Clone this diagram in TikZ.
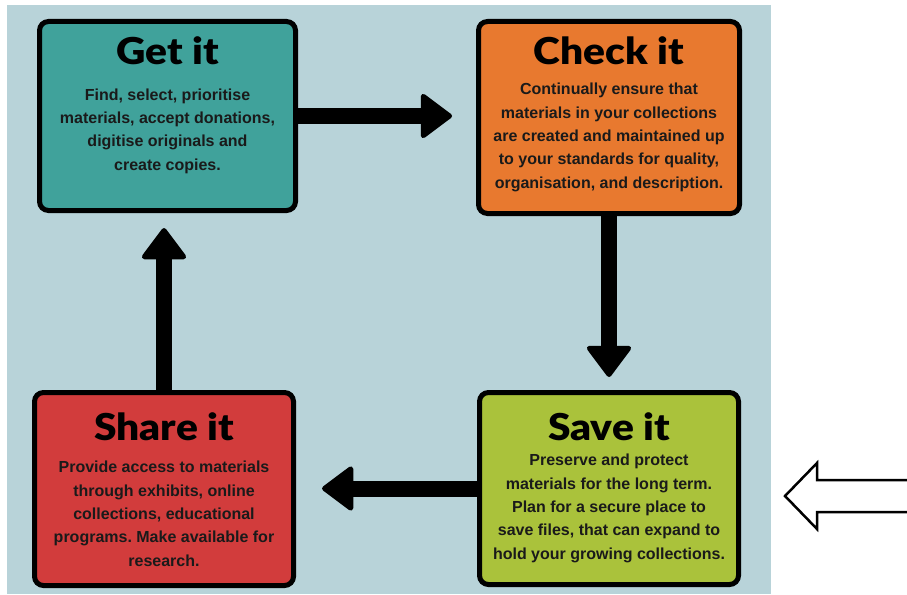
\documentclass[tikz,border=0pt]{standalone}
\usepackage{fontspec}
\setmainfont{Liberation Sans}
\newfontfamily\headfont{Lato Black}[FakeStretch=1.1]
\usetikzlibrary{arrows.meta}
\frenchspacing

\definecolor{bgblue}{HTML}{B8D3D9}
\definecolor{getcol}{HTML}{40A29B}
\definecolor{checkcol}{HTML}{E8792F}
\definecolor{sharecol}{HTML}{D23C3C}
\definecolor{savecol}{HTML}{AAC23B}
\definecolor{inkdark}{HTML}{1A1A1A}

\tikzset{
  stage/.style={draw=black, line width=5pt, rounded corners=9pt, inner sep=0pt},
  heading/.style={font=\headfont\fontsize{37}{40}\selectfont, anchor=base, inner sep=0pt, text=black},
  blurb/.style={font=\bfseries\fontsize{16}{23.3}\selectfont, align=center, anchor=base, inner sep=0pt, text=inkdark},
  flow/.style={line width=16pt, draw=black, -{Triangle[width=48pt,length=33pt,round,line width=5pt]}},
  hollow/.style={draw=black, line width=2.5pt, fill=white, line join=miter},
}

\begin{document}
\begin{tikzpicture}[x=1pt, y=-1pt]
  \useasboundingbox (0,0) rectangle (907,594);
  \fill[bgblue] (7,5) rectangle (771,594);

  % the four stages
  \node[stage, fill=getcol,   minimum width=256pt, minimum height=189pt] (get)   at (167.5,116) {};
  \node[stage, fill=checkcol, minimum width=261pt, minimum height=192pt] (check) at (609,117.5) {};
  \node[stage, fill=sharecol, minimum width=259pt, minimum height=193pt] (share) at (164,489) {};
  \node[stage, fill=savecol,  minimum width=259pt, minimum height=192pt] (save)  at (609,488.5) {};

  % headings
  \node[heading] (gett)   at (167.5,65) {Get it};
  \node[heading] (checkt) at (609,65)   {Check it};
  \node[heading] (sharet) at (164,440)  {Share it};
  \node[heading] (savet)  at (609,440)  {Save it};

  % descriptions (placed by the baseline of their last line)
  \node[blurb] (getd) at (167.5,170) {Find, select, prioritise\\materials, accept donations,\\digitise originals and\\create copies.};
  \node[blurb] (checkd) at (609,188) {Continually ensure that\\materials in your collections\\are created and maintained up\\to your standards for quality,\\organisation, and description.};
  \node[blurb] (shared) at (164,566) {Provide access to materials\\through exhibits, online\\collections, educational\\programs. Make available for\\research.};
  \node[blurb] (saved) at (609,559) {Preserve and protect\\materials for the long term.\\Plan for a secure place to\\save files, that can expand to\\hold your growing collections.};

  % cycle connectors
  \draw[flow, shorten >=24pt] (get.east) -- (get.east -| check.west);
  \draw[flow, shorten >=13pt] (check.south) -- (save.north);
  \draw[flow, shorten >=26pt] (save.west) -- (save.west -| share.east);
  \draw[flow, shorten >=15pt] (share.north) -- (share.north |- get.south);

  % outlined pointer at the right margin
  \draw[hollow] (908,480) -- (817,480) -- (817,463) -- (785,496) -- (817,529) -- (817,512) -- (908,512);
\end{tikzpicture}
\end{document}
